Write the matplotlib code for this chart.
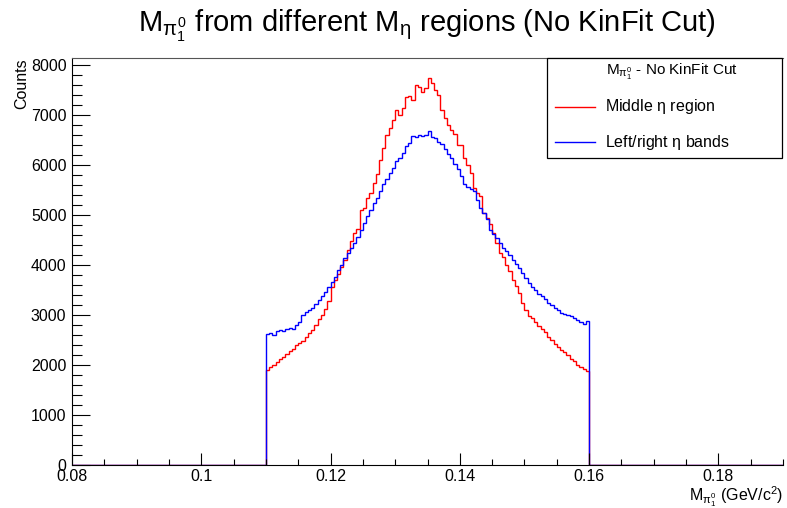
import numpy as np
import matplotlib
matplotlib.use("Agg")
import matplotlib.pyplot as plt
from matplotlib.patches import Rectangle
from matplotlib.lines import Line2D
from matplotlib.ticker import MultipleLocator

plt.rcParams['font.family'] = ['Liberation Sans', 'DejaVu Sans']
plt.rcParams['mathtext.fontset'] = 'custom'
plt.rcParams['mathtext.rm'] = 'Liberation Sans'
plt.rcParams['mathtext.it'] = 'Liberation Sans'
plt.rcParams['mathtext.bf'] = 'Liberation Sans'

# histogram range and binning (GeV/c^2)
hist_range = [0.08, 0.19]
cut_low, cut_high = 0.11, 0.16
bin_width = 0.0005

# Middle eta region (red), 100 bins from 0.110 to 0.160
middle_counts = [
    1900, 1960, 2000, 2060, 2120, 2170, 2230, 2290, 2330, 2400,
    2440, 2480, 2560, 2640, 2700, 2800, 2920, 3010, 3120, 3280,
    3560, 3700, 3820, 3960, 4100, 4300, 4480, 4640, 4720, 5100,
    5150, 5350, 5450, 5650, 5820, 6100, 6350, 6600, 6750, 6900,
    7100, 7000, 7150, 7370, 7380, 7300, 7600, 7570, 7470, 7550,
    7750, 7650, 7500, 7400, 7100, 6950, 6800, 6700, 6620, 6400,
    6400, 6150, 6000, 5850, 5550, 5450, 5380, 5050, 4950, 4830,
    4650, 4450, 4250, 4170, 4000, 3880, 3700, 3580, 3450, 3250,
    3100, 2980, 2940, 2860, 2790, 2720, 2660, 2560, 2500, 2430,
    2370, 2300, 2260, 2200, 2130, 2080, 2010, 1970, 1930, 1880,
]

# Left/right eta sidebands (blue)
side_counts = [
    2620, 2640, 2610, 2680, 2700, 2690, 2730, 2750, 2720, 2800,
    2860, 3000, 3060, 3100, 3150, 3220, 3300, 3380, 3470, 3560,
    3660, 3760, 3900, 4000, 4150, 4250, 4350, 4450, 4560, 4700,
    4850, 4980, 5100, 5250, 5350, 5480, 5620, 5720, 5850, 5950,
    6080, 6150, 6250, 6380, 6450, 6580, 6560, 6600, 6580, 6610,
    6680, 6560, 6540, 6470, 6420, 6320, 6220, 6150, 6030, 5930,
    5780, 5630, 5560, 5520, 5490, 5300, 5150, 5050, 4930, 4700,
    4620, 4540, 4450, 4350, 4280, 4200, 4110, 4030, 3950, 3850,
    3740, 3650, 3570, 3500, 3430, 3380, 3320, 3250, 3200, 3150,
    3100, 3050, 3030, 3000, 2980, 2940, 2900, 2870, 2820, 2880,
]

y_max = 8140
x_ticks = [0.08, 0.1, 0.12, 0.14, 0.16, 0.18]
x_tick_labels = ["0.08", "0.1", "0.12", "0.14", "0.16", "0.18"]
y_ticks = [0, 1000, 2000, 3000, 4000, 5000, 6000, 7000, 8000]

n = len(middle_counts)
inner_edges = cut_low + bin_width * np.arange(n + 1)
edges = np.concatenate([[hist_range[0]], inner_edges, [hist_range[1]]])
red_vals = np.concatenate([[0], middle_counts, [0]])
blue_vals = np.concatenate([[0], side_counts, [0]])

fig = plt.figure(figsize=(7.87, 5.08), dpi=100)
ax = fig.add_axes([72/787, 1-465/508, (783-72)/787, (465-58)/508])

ax.stairs(red_vals, edges, color='#ff0000', lw=1.0, baseline=0, fill=False)
ax.stairs(blue_vals, edges, color='#0000ff', lw=1.0, baseline=0, fill=False)

ax.set_xlim(hist_range)
ax.set_ylim(0, y_max)
ax.set_xticks(x_ticks)
ax.set_xticklabels(x_tick_labels)
ax.set_yticks(y_ticks)
ax.xaxis.set_minor_locator(MultipleLocator(0.005))
ax.yaxis.set_minor_locator(MultipleLocator(200))
ax.tick_params(axis='both', which='both', direction='in', labelsize=11.5, top=False, right=False)
ax.tick_params(axis='y', which='major', length=13, width=0.8, pad=4)
ax.tick_params(axis='y', which='minor', length=7, width=0.8)
ax.tick_params(axis='x', which='major', length=8.5, width=0.8, pad=3)
ax.tick_params(axis='x', which='minor', length=4.5, width=0.8)
ax.spines['right'].set_visible(False)
for s in ['left', 'bottom', 'top']:
    ax.spines[s].set_linewidth(0.8)
ax.spines['top'].set_color('#555555')

fig.text(427/787, 1-26/508, r"M$_{\pi^0_1}$ from different M$_\eta$ regions (No KinFit Cut)",
         ha='center', va='center', fontsize=21)
fig.text(22/787, 1-58/508, "Counts", rotation=90, ha='center', va='top', fontsize=11.5)
fig.text(783/787, 1-497/508, r"M$_{\pi^0_1}$ (GeV/c$^2$)", ha='right', va='center', fontsize=11.5)

# legend box
lx0, ly0, lx1, ly1 = 547, 58, 782, 158
fig.add_artist(Rectangle((lx0/787, 1-ly1/508), (lx1-lx0)/787, (ly1-ly0)/508,
                         transform=fig.transFigure, fill=True, facecolor='white',
                         edgecolor='black', lw=0.9))
fig.text(672/787, 1-72/508, r"M$_{\pi^0_1}$ - No KinFit Cut", ha='center', va='center', fontsize=11)
fig.add_artist(Line2D([555/787, 595/787], [1-107/508, 1-107/508], transform=fig.transFigure,
                      color='#ff0000', lw=1.0))
fig.text(605/787, 1-107/508, r"Middle $\eta$ region", ha='left', va='center', fontsize=11.5)
fig.add_artist(Line2D([555/787, 595/787], [1-142/508, 1-142/508], transform=fig.transFigure,
                      color='#0000ff', lw=1.0))
fig.text(605/787, 1-142/508, r"Left/right $\eta$ bands", ha='left', va='center', fontsize=11.5)

fig.savefig("out.png", dpi=100)
